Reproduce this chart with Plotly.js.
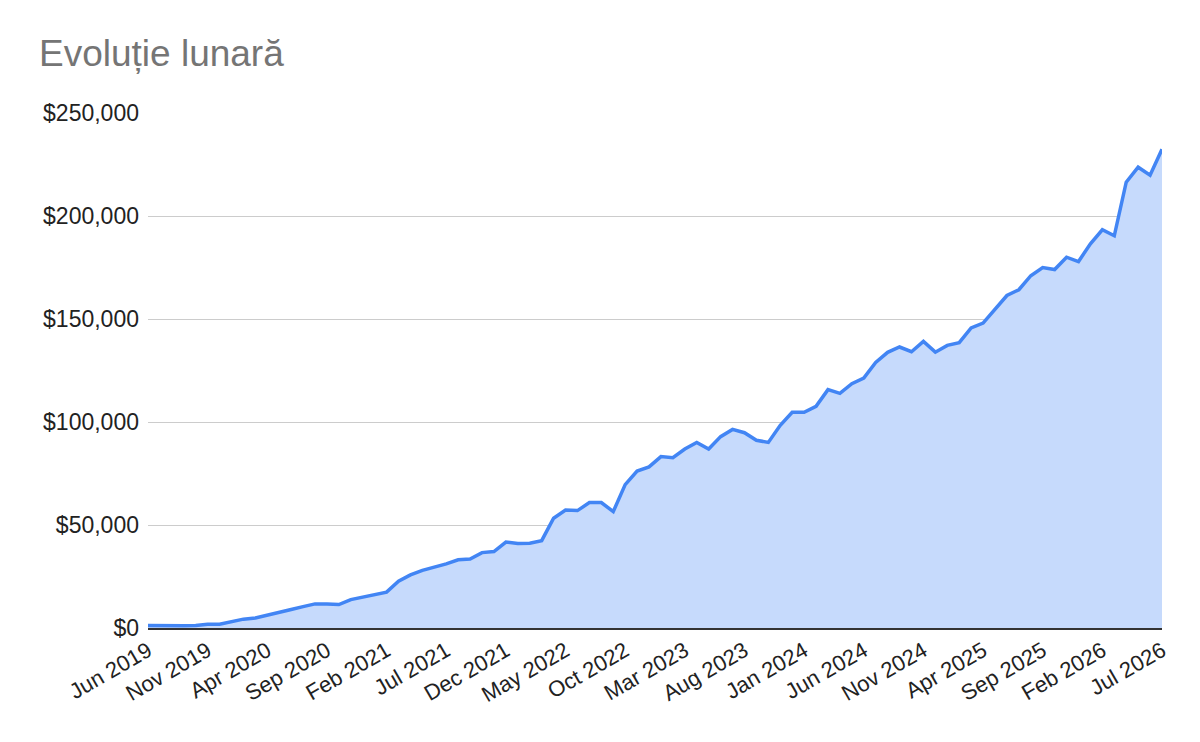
<!DOCTYPE html>
<html>
<head>
<meta charset="utf-8">
<script src="https://cdn.plot.ly/plotly-3.0.1.min.js"></script>
<style>
  html, body { margin: 0; padding: 0; background: #fff; }
  #chart { width: 1200px; height: 742px; }
</style>
</head>
<body>
<div id="chart"></div>
<script>
// month names, first month and the monthly totals (Jun 2019 .. Jul 2026)
var monthNames = ['Jan', 'Feb', 'Mar', 'Apr', 'May', 'Jun', 'Jul', 'Aug', 'Sep', 'Oct', 'Nov', 'Dec'];
var startYear = 2019;
var startMonth = 5; // Jun

var values = [
  1200, 1050, 900, 1050, 1200, 1850, 1850, 3000, 4300, 4900,
  6400, 7800, 9000, 10400, 11700, 11700, 11400, 13800, 15000, 15900,
  17400, 22700, 25800, 28000, 29500, 31100, 33100, 33500, 36600, 37100,
  41700, 41000, 41100, 42400, 53300, 57300, 57000, 60900, 60900, 56500,
  69600, 76200, 78200, 83200, 82700, 86900, 90100, 86900, 92900, 96400,
  94800, 91100, 90100, 98400, 104700, 104700, 107600, 115700, 113900, 118600,
  121300, 128900, 133800, 136400, 134100, 139100, 133900, 137200, 138500, 145700,
  148000, 155000, 161400, 164200, 171000, 175000, 174000, 180000, 177900, 186500,
  193300, 190400, 216400, 223700, 219800, 232400
];

var tickLabels = [
  'Jun 2019', 'Nov 2019', 'Apr 2020', 'Sep 2020', 'Feb 2021', 'Jul 2021',
  'Dec 2021', 'May 2022', 'Oct 2022', 'Mar 2023', 'Aug 2023', 'Jan 2024',
  'Jun 2024', 'Nov 2024', 'Apr 2025', 'Sep 2025', 'Feb 2026', 'Jul 2026'
];

var months = values.map(function (v, i) {
  var m = startMonth + i;
  return monthNames[m % 12] + ' ' + (startYear + Math.floor(m / 12));
});

var font = 'Arial, "Liberation Sans", sans-serif';

var trace = {
  x: months,
  y: values,
  type: 'scatter',
  mode: 'lines',
  fill: 'tozeroy',
  fillcolor: '#c6dafc',
  line: { color: '#4285f4', width: 3.5 },
  hoverinfo: 'x+y'
};

var layout = {
  width: 1200,
  height: 742,
  paper_bgcolor: '#fff',
  plot_bgcolor: '#fff',
  margin: { l: 148, r: 38, t: 113, b: 114 },
  showlegend: false,
  title: {
    text: 'Evoluție lunară',
    font: { family: font, size: 37, color: '#757575' },
    xref: 'container', x: 39 / 1200, xanchor: 'left',
    yref: 'container', y: 1 - 53 / 742, yanchor: 'middle'
  },
  xaxis: {
    type: 'category',
    range: [0, values.length - 1],
    tickmode: 'array',
    tickvals: tickLabels,
    ticktext: tickLabels,
    tickangle: -30,
    tickfont: { family: font, size: 22, color: '#222' },
    showgrid: false,
    zeroline: false,
    showline: true,
    linecolor: '#333',
    linewidth: 1.5,
    ticks: '',
    layer: 'above traces'
  },
  yaxis: {
    range: [0, 250000],
    dtick: 50000,
    tickprefix: '$',
    tickformat: ',d',
    tickfont: { family: font, size: 23, color: '#222' },
    showgrid: true,
    gridcolor: '#cccccc',
    gridwidth: 1,
    zeroline: false,
    showline: false,
    ticks: '',
    ticklabelstandoff: 8
  }
};

Plotly.newPlot('chart', [trace], layout, { displayModeBar: false, staticPlot: true });
</script>
</body>
</html>
